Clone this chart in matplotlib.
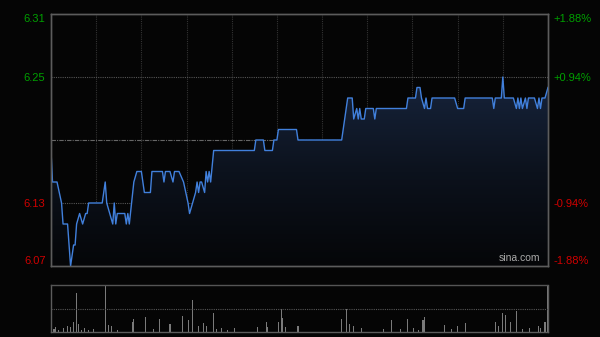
import numpy as np
import matplotlib
matplotlib.use('Agg')
import matplotlib.pyplot as plt
from matplotlib.colors import LinearSegmentedColormap

# intraday price, minutes from open (330 min session)
t_min = [0, 1, 4, 7, 8, 11, 13, 15, 16, 17, 19, 21, 23, 24, 25, 34, 36, 37, 39, 41,
         42, 43, 44, 49, 50, 51, 52, 55, 57, 59, 60, 62, 66, 67, 74, 75, 76, 79, 81, 82,
         85, 88, 91, 92, 96, 97, 98, 99, 100, 102, 103, 104, 105, 106, 108, 135, 136, 141, 142, 147,
         148, 150, 151, 163, 164, 193, 196, 197, 200, 201, 203, 204, 205, 206, 208, 209, 214, 215, 216, 236,
         237, 242, 243, 245, 246, 248, 249, 250, 252, 253, 268, 270, 274, 275, 293, 294, 295, 299, 300, 301,
         307, 309, 310, 311, 312, 313, 315, 316, 317, 321, 323, 324, 325, 326, 328, 330]
price = [6.18, 6.15, 6.15, 6.13, 6.11, 6.11, 6.07, 6.09, 6.09, 6.11, 6.12, 6.11, 6.12, 6.12, 6.13, 6.13, 6.15, 6.13, 6.12, 6.11,
         6.13, 6.11, 6.12, 6.12, 6.11, 6.12, 6.11, 6.15, 6.16, 6.16, 6.16, 6.14, 6.14, 6.16, 6.16, 6.15, 6.16, 6.16, 6.15, 6.16,
         6.16, 6.15, 6.13, 6.12, 6.14, 6.15, 6.14, 6.15, 6.15, 6.14, 6.16, 6.15, 6.16, 6.15, 6.18, 6.18, 6.19, 6.19, 6.18, 6.18,
         6.19, 6.19, 6.20, 6.20, 6.19, 6.19, 6.22, 6.23, 6.23, 6.21, 6.22, 6.21, 6.22, 6.21, 6.21, 6.22, 6.22, 6.21, 6.22, 6.22,
         6.23, 6.23, 6.24, 6.24, 6.23, 6.22, 6.23, 6.22, 6.22, 6.23, 6.23, 6.22, 6.22, 6.23, 6.23, 6.22, 6.23, 6.23, 6.25, 6.23,
         6.23, 6.22, 6.23, 6.22, 6.23, 6.22, 6.23, 6.22, 6.23, 6.23, 6.22, 6.23, 6.22, 6.23, 6.23, 6.24]

# volume spikes (minute, relative size)
vol_t = [0, 2, 3, 5, 8, 11, 13, 15, 17, 18, 20, 22, 25, 28, 36, 38, 40, 44, 54, 55,
         63, 68, 72, 79, 87, 91, 94, 98, 101, 103, 108, 110, 113, 117, 122, 137, 143, 144, 151, 153,
         154, 156, 164, 193, 196, 198, 201, 206, 221, 226, 232, 237, 241, 244, 247, 248, 261, 266, 270, 275,
         295, 297, 300, 302, 305, 309, 313, 318, 324, 325, 328, 330]
vol = [13, 3, 5, 2, 4, 6, 5, 10, 40, 8, 2, 4, 2, 3, 48, 7, 6, 2, 10, 13,
       15, 3, 13, 8, 16, 12, 33, 6, 9, 6, 19, 3, 4, 2, 4, 5, 10, 5, 10, 24,
       14, 5, 6, 13, 24, 8, 6, 4, 3, 12, 3, 13, 4, 2, 12, 15, 7, 3, 6, 9,
       10, 6, 19, 17, 10, 21, 3, 4, 6, 4, 10, 47]

left_ticks = [6.07, 6.13, 6.25, 6.31]
left_labels = ['6.07', '6.13', '6.25', '6.31']
right_labels = ['-1.88%', '-0.94%', '+0.94%', '+1.88%']
tick_colors = ['#d00000', '#d00000', '#00a000', '#00a000']
prev_close = 6.19

bg = '#050505'
grid_c = '#333333'
spine_c = '#5c5c5c'
plt.rcParams['font.family'] = ['Liberation Sans', 'DejaVu Sans']

fig = plt.figure(figsize=(6, 3.37), dpi=100, facecolor=bg)
ax = fig.add_axes([51/600, 1-266/337, 497/600, 252/337], facecolor=bg)
axv = fig.add_axes([51/600, 1-332/337, 497/600, 47/337], facecolor=bg)

# price panel
ax.set_xlim(0, 330)
ax.set_ylim(6.07, 6.31)
for x in range(30, 330, 30):
    ax.axvline(x, color=grid_c, lw=0.8, ls=(0, (1, 1)), zorder=1)
for y in [6.13, 6.25]:
    ax.axhline(y, color='#555555', lw=0.8, ls=(0, (1, 1)), zorder=1)
ax.axhline(prev_close, color='#666666', lw=0.8, ls=(0, (4, 1, 1, 1)), zorder=1)

poly = ax.fill_between(t_min, price, 6.07, color='none', lw=0)
cmap = LinearSegmentedColormap.from_list('f', ['#050608', '#0c121d', '#17243c'])
grad = np.linspace(0, 1, 256).reshape(-1, 1)
im = ax.imshow(grad, extent=[0, 330, 6.07, 6.25], origin='lower', aspect='auto',
               cmap=cmap, zorder=2)
im.set_clip_path(poly.get_paths()[0], transform=ax.transData)
ax.plot(t_min, price, color='#4180dc', lw=1.0, zorder=3)

ax.set_yticks(left_ticks)
ax.set_yticklabels(left_labels)
ax.tick_params(axis='y', length=0, labelsize=8, pad=4)
ax.set_xticks([])
for lab, c in zip(ax.get_yticklabels(), tick_colors):
    lab.set_color(c)
ax.get_yticklabels()[0].set_va('bottom')
ax.get_yticklabels()[-1].set_va('top')

axr = ax.twinx()
axr.set_ylim(6.07, 6.31)
axr.set_yticks(left_ticks)
axr.set_yticklabels(right_labels)
axr.tick_params(axis='y', length=0, labelsize=8, pad=4)
for lab, c in zip(axr.get_yticklabels(), tick_colors):
    lab.set_color(c)
axr.get_yticklabels()[0].set_va('bottom')
axr.get_yticklabels()[-1].set_va('top')

for a in (ax, axr):
    for s in a.spines.values():
        s.set_color(spine_c)
        s.set_linewidth(1)

ax.text(0.985, 0.012, 'sina.com', transform=ax.transAxes, ha='right', va='bottom',
        color='#aaaaaa', fontsize=7.5, zorder=5)

# volume panel
axv.set_xlim(0, 330)
axv.set_ylim(0, 48)
axv.bar(vol_t, vol, width=0.7, color='#7a7a7a', lw=0)
axv.axhline(24, color='#555555', lw=0.8, ls=(0, (1, 1)))
axv.set_xticks([])
axv.set_yticks([])
axv.spines['top'].set_linestyle((0, (1, 1)))
for s in axv.spines.values():
    s.set_color(spine_c)
    s.set_linewidth(1)
axv.spines['top'].set_color('#555555')

fig.savefig('out.png', dpi=100, facecolor=bg)
